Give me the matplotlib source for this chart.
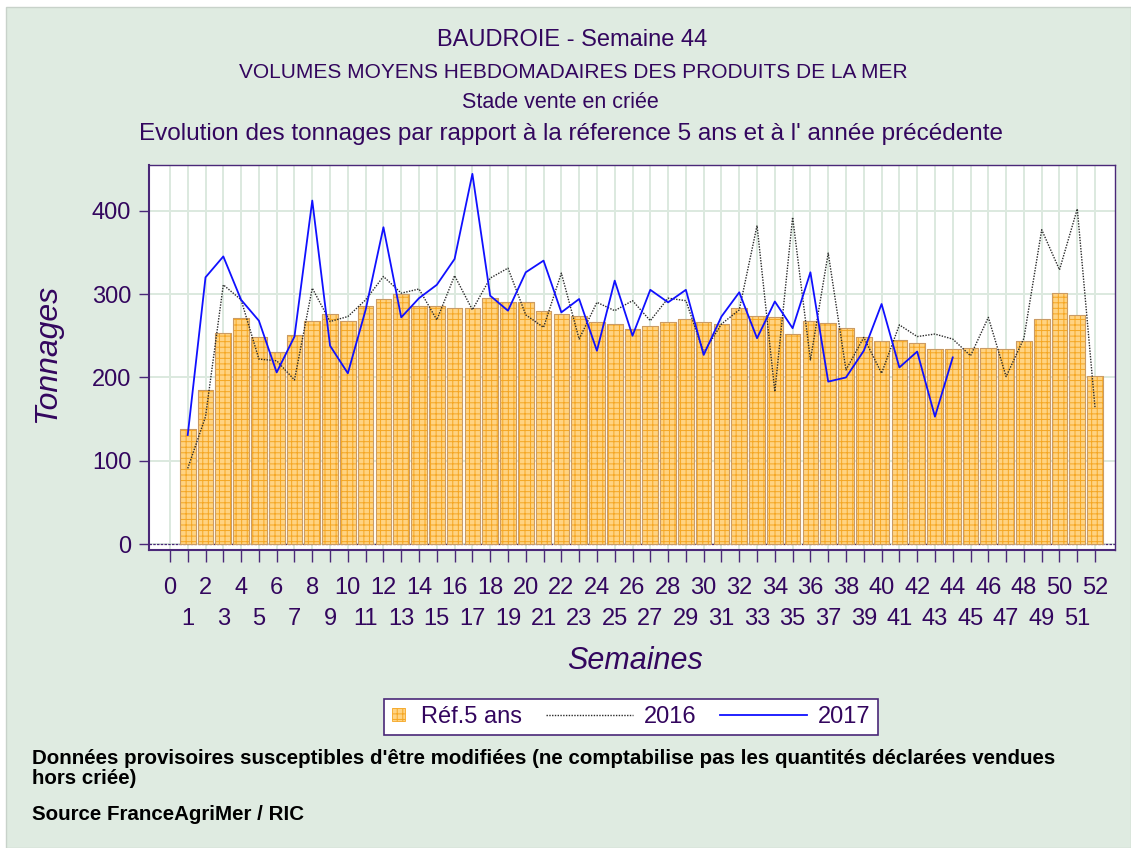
import matplotlib
matplotlib.use('Agg')
import matplotlib.pyplot as plt
from matplotlib.patches import Rectangle
from matplotlib.lines import Line2D
from matplotlib.legend_handler import HandlerPatch, HandlerLine2D

# ---------------- data ----------------
weeks = list(range(1, 53))
ref5 = [138, 185, 253, 271, 248, 231, 251, 268, 276, 268,
        286, 294, 300, 286, 286, 283, 283, 295, 291, 290,
        280, 276, 274, 267, 264, 258, 262, 266, 270, 266,
        264, 283, 274, 273, 252, 268, 265, 259, 248, 244,
        245, 241, 234, 234, 235, 235, 234, 244, 270, 301,
        275, 202]
y2016 = [91, 153, 311, 293, 222, 220, 197, 307, 267, 273,
         293, 321, 301, 306, 269, 322, 281, 319, 331, 275,
         260, 325, 246, 290, 280, 292, 268, 295, 292, 230,
         264, 281, 382, 183, 392, 221, 349, 209, 248, 205,
         263, 249, 252, 246, 226, 272, 201, 247, 377, 329,
         402, 163]
weeks_2017 = list(range(1, 45))
y2017 = [131, 320, 345, 293, 268, 206, 249, 412, 238, 205,
         281, 380, 272, 295, 311, 342, 444, 298, 280, 326,
         340, 278, 294, 232, 316, 250, 305, 290, 305, 227,
         273, 302, 247, 291, 259, 326, 195, 200, 232, 288,
         212, 231, 153, 224]
yticks = [0, 100, 200, 300, 400]
even_weeks = list(range(0, 53, 2))
odd_weeks = list(range(1, 52, 2))

title_lines = ["BAUDROIE - Semaine 44",
               "VOLUMES MOYENS HEBDOMADAIRES DES PRODUITS DE LA MER",
               "Stade vente en criée",
               "Evolution des tonnages par rapport à la réference 5 ans et à l' année précédente"]
legend_labels = ["Réf.5 ans", "2016", "2017"]
note1a = "Données provisoires susceptibles d'être modifiées (ne comptabilise pas les quantités déclarées vendues"
note1b = "hors criée)"
note2 = "Source FranceAgriMer / RIC"

# ---------------- style ----------------
plt.rcParams['font.family'] = ['Liberation Sans', 'DejaVu Sans']
plt.rcParams['hatch.linewidth'] = 0.7

TXT = '#33065E'
SPINE = '#4A2878'
BG = '#DFEBE1'
GRID = '#DCE9DF'
BAR_FACE = '#FFD382'
BAR_HATCH = '#F5A623'

W, H = 1131, 848
fig = plt.figure(figsize=(W / 100, H / 100), dpi=100)
fig.patch.set_facecolor('white')
fig.patches.append(Rectangle((6 / W, 0), 1 - 6 / W, 1 - 7 / H, transform=fig.transFigure,
                             facecolor=BG, edgecolor='#C8D2CA', linewidth=1, zorder=-10))

ax = fig.add_axes([149.3 / W, (H - 550) / H, (1115 - 149.3) / W, (550 - 165) / H])
ax.set_facecolor('white')

ax.bar(weeks, ref5, width=0.88, facecolor=BAR_FACE, edgecolor=BAR_HATCH,
       hatch='+++', linewidth=0.8, zorder=2)
ax.bar(weeks, ref5, width=0.88, facecolor='none', edgecolor='#C89B6A',
       linewidth=0.7, zorder=2.5)
ax.axhline(0, color=SPINE, lw=0.9, ls=(0, (2, 1)), zorder=1.5)
ax.plot(weeks, y2016, color='#2A2A2A', lw=1.0, ls=(0, (1, 1)), zorder=3)
ax.plot(weeks_2017, y2017, color='#1010FF', lw=1.3, zorder=4)

ax.set_xlim(-1.16, 53.12)
ax.set_ylim(-6.8, 454.6)

ax.set_xticks(even_weeks)
ax.set_xticklabels([str(w) for w in even_weeks])
ax.set_xticks(odd_weeks, minor=True)
ax.set_xticklabels([str(w) for w in odd_weeks], minor=True)
ax.set_yticks(yticks)
ax.set_yticklabels([str(v) for v in yticks])

ax.tick_params(axis='x', which='both', length=8.6, width=1.0, color=SPINE,
               labelsize=17, labelcolor=TXT, direction='out')
ax.tick_params(axis='x', which='major', pad=11)
ax.tick_params(axis='x', which='minor', pad=33)
ax.tick_params(axis='y', which='major', length=7, width=1.0, color=SPINE,
               labelsize=17, labelcolor=TXT, pad=6)

ax.grid(axis='x', which='both', color=GRID, lw=1.4, zorder=0)
ax.grid(axis='y', which='major', color=GRID, lw=1.4, zorder=0)
ax.set_axisbelow(True)

for s in ax.spines.values():
    s.set_color(SPINE)
    s.set_linewidth(1.0)
ax.spines['left'].set_linewidth(1.5)
ax.spines['bottom'].set_linewidth(1.5)

# axis labels
fig.text(47 / W, 1 - 353 / H, 'Tonnages', rotation=90, ha='center', va='center',
         fontsize=23, style='italic', color=TXT)
fig.text(635 / W, 1 - 661 / H, 'Semaines', ha='center', va='center',
         fontsize=22, style='italic', color=TXT)

# titles
tsizes = [17, 15, 15.5, 17.5]
tys = [40, 72, 103, 134]
txs = [572, 573, 560, 571]
for t, s, yy, xx in zip(title_lines, tsizes, tys, txs):
    fig.text(xx / W, 1 - yy / H, t, ha='center', va='center', fontsize=s, color=TXT)

# legend
class SmallSquare(HandlerPatch):
    def create_artists(self, legend, orig_handle, xdescent, ydescent, width, height, fontsize, trans):
        side = 13 * 0.72
        p = Rectangle((-xdescent, -ydescent + (height - side) / 2), side, side,
                      facecolor=BAR_FACE, edgecolor=BAR_HATCH, hatch='+++', lw=0.6,
                      transform=trans)
        return [p]


class LongLine(HandlerLine2D):
    def create_artists(self, legend, orig_handle, xdescent, ydescent, width, height, fontsize, trans):
        L = 87 * 0.72
        y = -ydescent + height / 2
        ln = Line2D([-xdescent + width - L, -xdescent + width], [y, y])
        self.update_prop(ln, orig_handle, legend)
        ln.set_transform(trans)
        return [ln]


h_bar = Rectangle((0, 0), 1, 1, facecolor=BAR_FACE, edgecolor=BAR_HATCH, hatch='+++')
h16 = Line2D([], [], color='#2A2A2A', lw=1.0, ls=(0, (1, 1)))
h17 = Line2D([], [], color='#1010FF', lw=1.3)
leg = fig.legend([h_bar, h16, h17], legend_labels, ncol=3, loc='center',
                 bbox_to_anchor=(631 / W, 1 - 717 / H), fontsize=17,
                 frameon=True, fancybox=False, edgecolor=SPINE, facecolor='white',
                 framealpha=1, handlelength=0.8, handletextpad=0.45, columnspacing=3.9,
                 borderpad=0.3, borderaxespad=0,
                 handler_map={Rectangle: SmallSquare(), Line2D: LongLine()})
leg.get_frame().set_linewidth(1.2)
for t in leg.get_texts():
    t.set_color(TXT)

# notes
fig.text(32 / W, 1 - 758 / H, note1a, ha='left', va='center', fontsize=14.8,
         color='black', fontweight='bold')
fig.text(32 / W, 1 - 779 / H, note1b, ha='left', va='center', fontsize=14.8,
         color='black', fontweight='bold')
fig.text(32 / W, 1 - 815 / H, note2, ha='left', va='center', fontsize=14.8,
         color='black', fontweight='bold')

fig.savefig('out.png', dpi=100, facecolor=fig.get_facecolor())
